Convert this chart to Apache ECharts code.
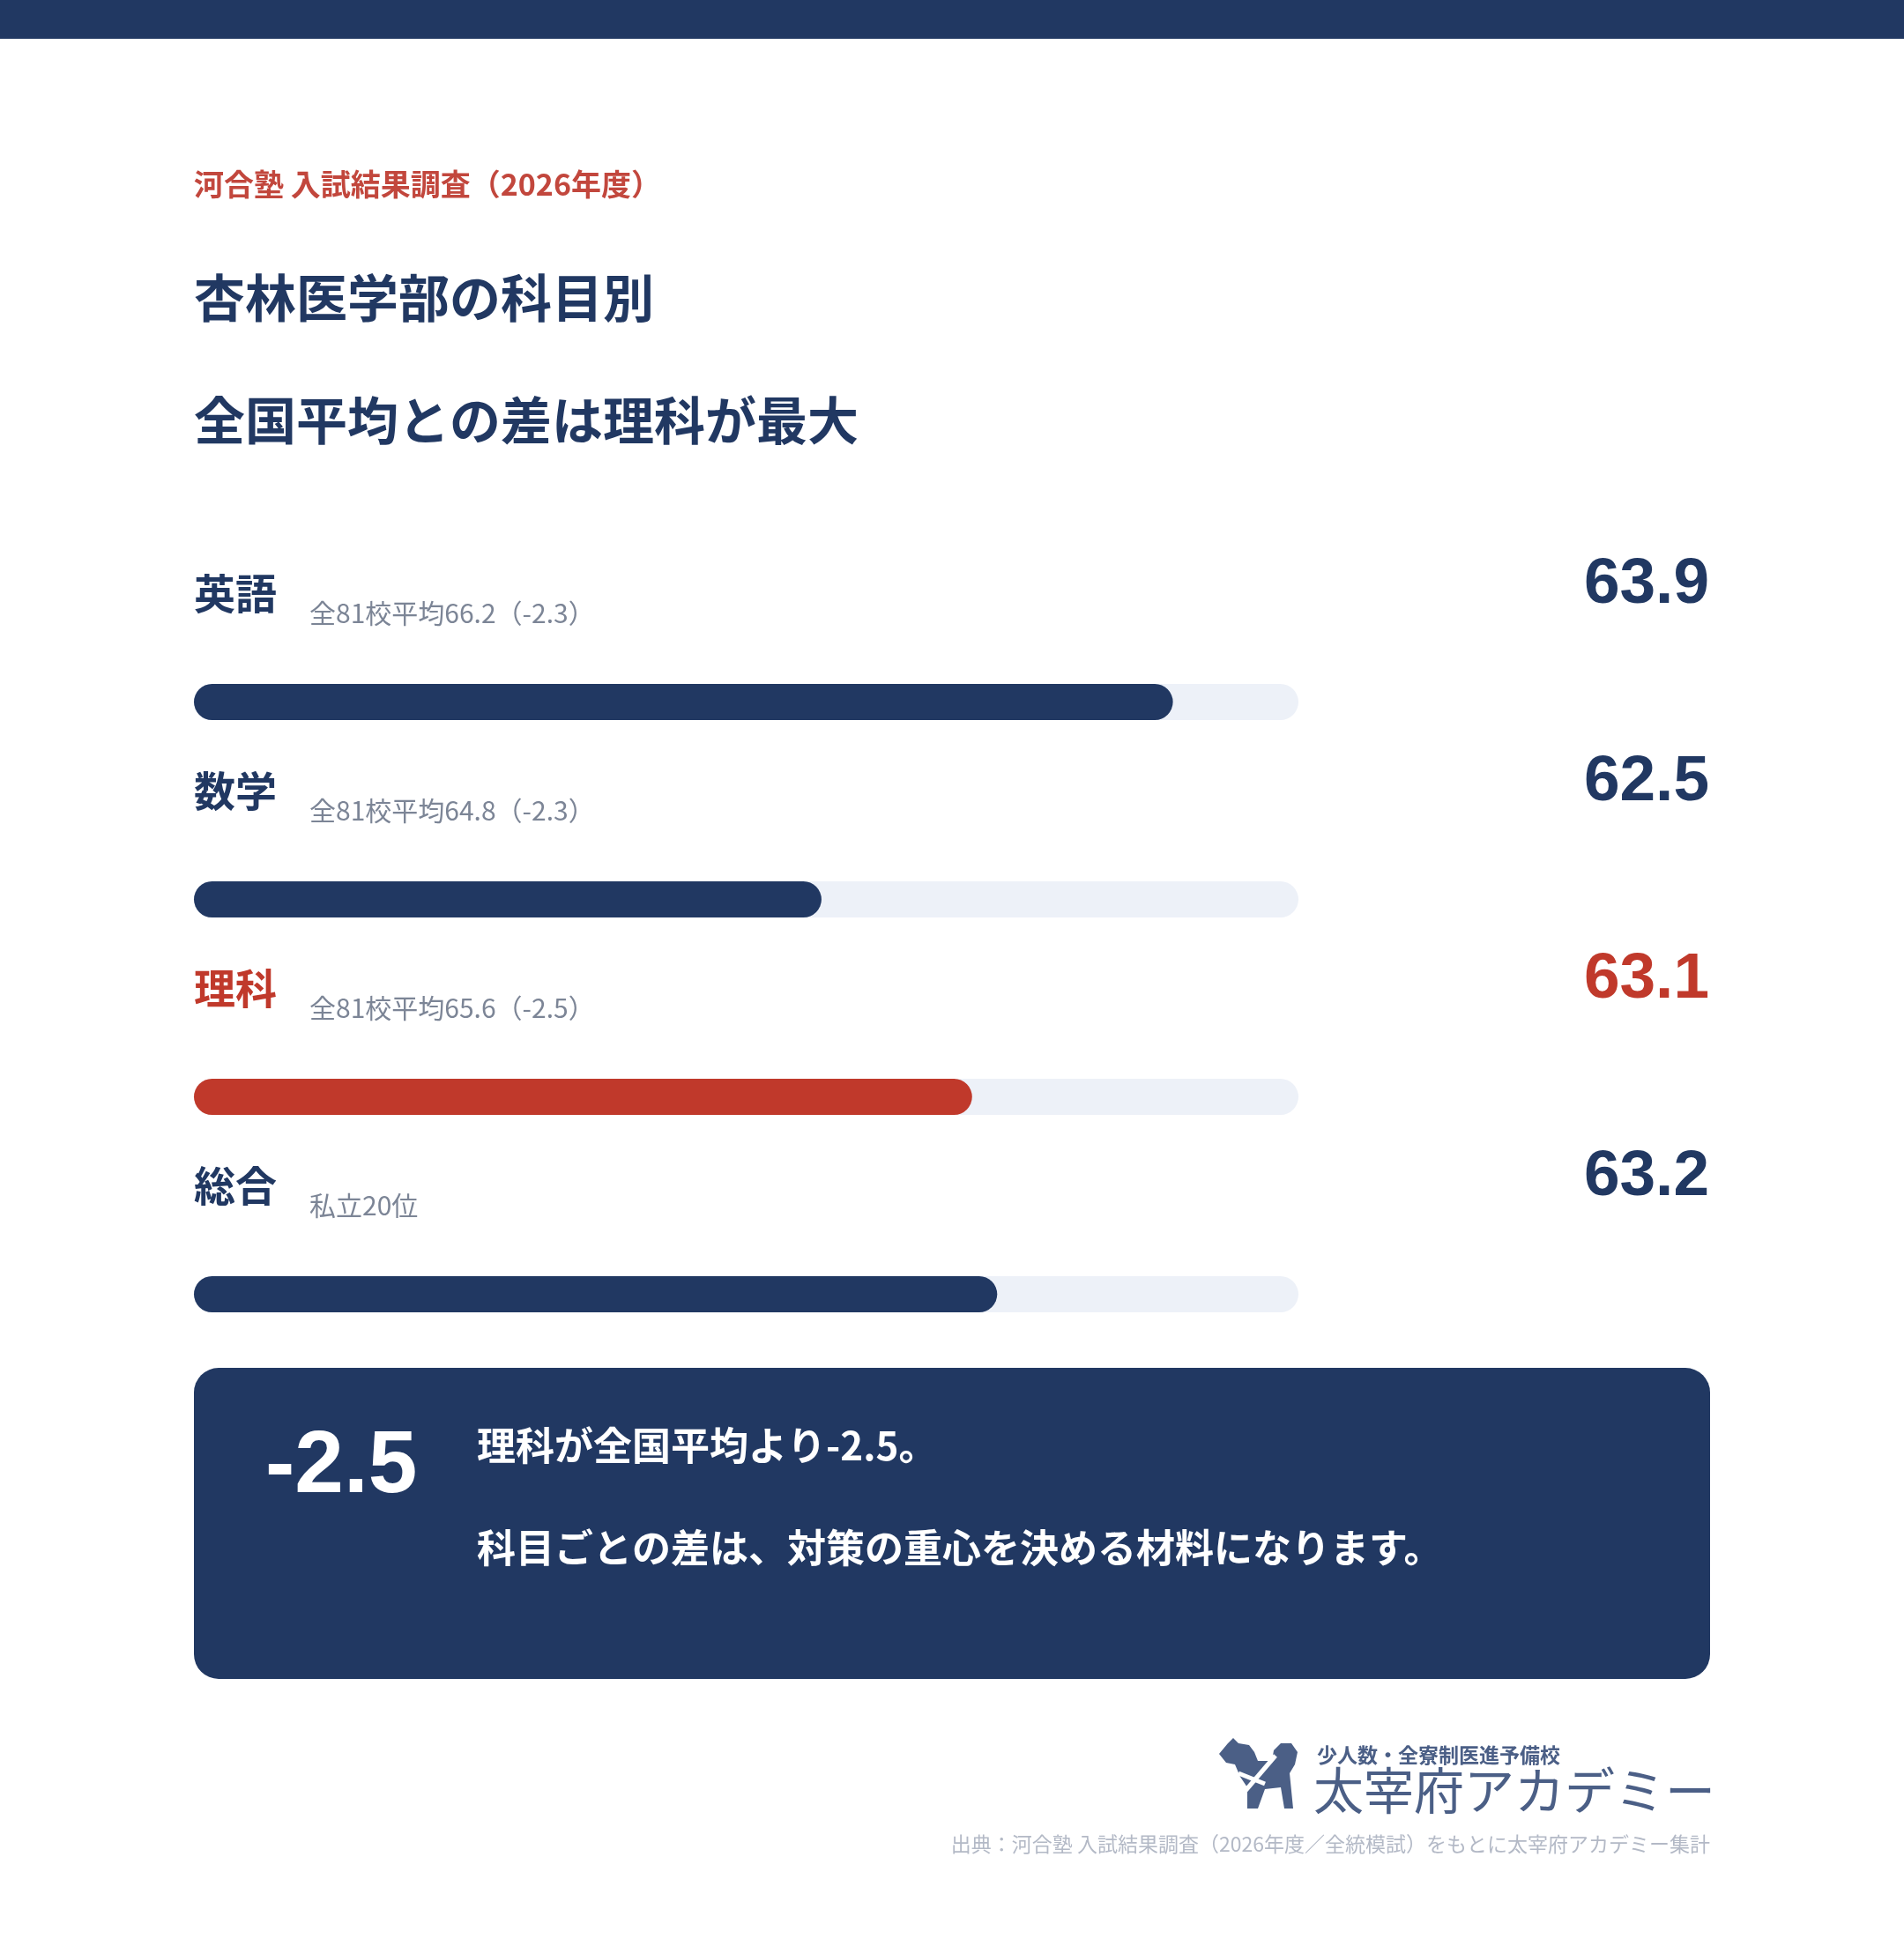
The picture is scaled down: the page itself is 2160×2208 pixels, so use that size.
<!DOCTYPE html>
<html lang="ja">
<head>
<meta charset="UTF-8">
<title>杏林医学部の科目別 偏差値</title>
<script src="https://cdn.jsdelivr.net/npm/echarts@6.0.0/dist/echarts.min.js"></script>
<style>
  html, body { margin: 0; padding: 0; background: #fff; }
  #chart { width: 2160px; height: 2208px; }
</style>
</head>
<body>
<div id="chart"></div>
<script>
  // data
  const subjects = ['英語', '数学', '理科', '総合'];
  const scores = [63.9, 62.5, 63.1, 63.2];
  const notes = ['全81校平均66.2（-2.3）', '全81校平均64.8（-2.3）', '全81校平均65.6（-2.5）', '私立20位'];
  const gaps = [-2.3, -2.3, -2.5, null];
  const highlight = '理科';
  const axisMin = 60;
  const axisMax = 64.4;

  const NAVY = '#213862';
  const RED = '#c0392b';
  const TRACK = '#edf1f8';
  const GREY = '#7c8596';
  const LOGO = '#4b5f86';
  const JP = '"Noto Sans CJK JP", "Noto Sans", sans-serif';
  const NUM = '"Liberation Sans", Arial, sans-serif';

  const keyIdx = subjects.indexOf(highlight);
  const keyGap = gaps[keyIdx].toFixed(1);

  const chart = echarts.init(document.querySelector('#chart'));

  function txt(x, y, text, font, fill, align) {
    return {
      type: 'text', x: x, y: y, silent: true,
      style: {
        text: text, font: font, fill: fill,
        align: align || 'left', textAlign: align || 'left',
        verticalAlign: 'middle', textVerticalAlign: 'middle'
      }
    };
  }

  chart.setOption({
    animation: false,
    backgroundColor: '#ffffff',
    grid: {left: 220, right: 687, top: 684.5, height: 896, containLabel: false, outerBoundsMode: 'none'},
    xAxis: {type: 'value', min: axisMin, max: axisMax, startValue: axisMin, show: false},
    yAxis: {type: 'category', data: subjects, inverse: true, show: false},
    series: [
      {
        type: 'bar',
        barWidth: 41,
        silent: true,
        showBackground: true,
        backgroundStyle: {color: TRACK, borderRadius: 20.5},
        itemStyle: {borderRadius: 20.5},
        data: scores.map((v, i) => ({
          value: v,
          itemStyle: {color: subjects[i] === highlight ? RED : NAVY}
        }))
      },
      {
        type: 'custom',
        clip: false,
        silent: true,
        encode: {x: 0, y: 1},
        data: scores.map((v, i) => [v, i]),
        renderItem: function (params, api) {
          const i = params.dataIndex;
          const start = api.coord([axisMin, i]);
          const end = api.coord([axisMax, i]);
          const hot = subjects[i] === highlight;
          return {
            type: 'group',
            children: [
              txt(start[0], start[1] - 123, subjects[i], 'bold 47px ' + JP, hot ? RED : NAVY),
              txt(start[0] + 131, start[1] - 101, notes[i], '30px ' + JP, GREY),
              txt(end[0] + 466, start[1] - 133, scores[i].toFixed(1), 'bold 73px ' + NUM, hot ? RED : NAVY, 'right')
            ]
          };
        }
      }
    ],
    graphic: [
      {type: 'rect', silent: true, shape: {x: 0, y: 0, width: 2160, height: 44}, style: {fill: NAVY}},
      txt(220, 209, '河合塾 入試結果調査（2026年度）', 'bold 34px ' + JP, '#c2473d'),
      txt(220, 338, '杏林医学部の科目別', 'bold 58px ' + JP, NAVY),
      txt(220, 477, '全国平均との差は理科が最大', 'bold 58px ' + JP, NAVY),

      {type: 'rect', silent: true, shape: {x: 220, y: 1552, width: 1720, height: 353, r: 28}, style: {fill: NAVY}},
      txt(301, 1665, keyGap, 'bold 100px ' + NUM, '#ffffff'),
      txt(541, 1640, highlight + 'が全国平均より' + keyGap + '。', 'bold 44px ' + JP, '#ffffff'),
      txt(541, 1756, '科目ごとの差は、対策の重心を決める材料になります。', 'bold 44px ' + JP, '#ffffff'),

      // logo mark (rough silhouette)
      {
        type: 'group', x: 1383, y: 1972, silent: true,
        children: [
          {type: 'polygon', shape: {points: [[0, 18], [10, 6], [16, 0], [22, 6], [34, 8], [40, 16], [44, 26], [60, 26], [62, 14], [70, 6], [82, 6], [89, 16], [86, 30], [80, 40], [84, 80], [74, 80], [70, 56], [52, 58], [44, 80], [32, 80], [32, 56], [24, 44], [18, 30], [8, 28]]}, style: {fill: LOGO}},
          {type: 'line', shape: {x1: 28, y1: 62, x2: 64, y2: 20}, style: {stroke: '#ffffff', lineWidth: 5}},
          {type: 'line', shape: {x1: 22, y1: 40, x2: 52, y2: 52}, style: {stroke: '#ffffff', lineWidth: 5}}
        ]
      },
      txt(1494, 1991, '少人数・全寮制医進予備校', 'bold 23px ' + JP, LOGO),
      txt(1490, 2031, '太宰府アカデミー', '57px ' + JP, LOGO),

      txt(1940, 2092, '出典：河合塾 入試結果調査（2026年度／全統模試）をもとに太宰府アカデミー集計', '23px ' + JP, '#b3b9c6', 'right')
    ]
  });
</script>
</body>
</html>
